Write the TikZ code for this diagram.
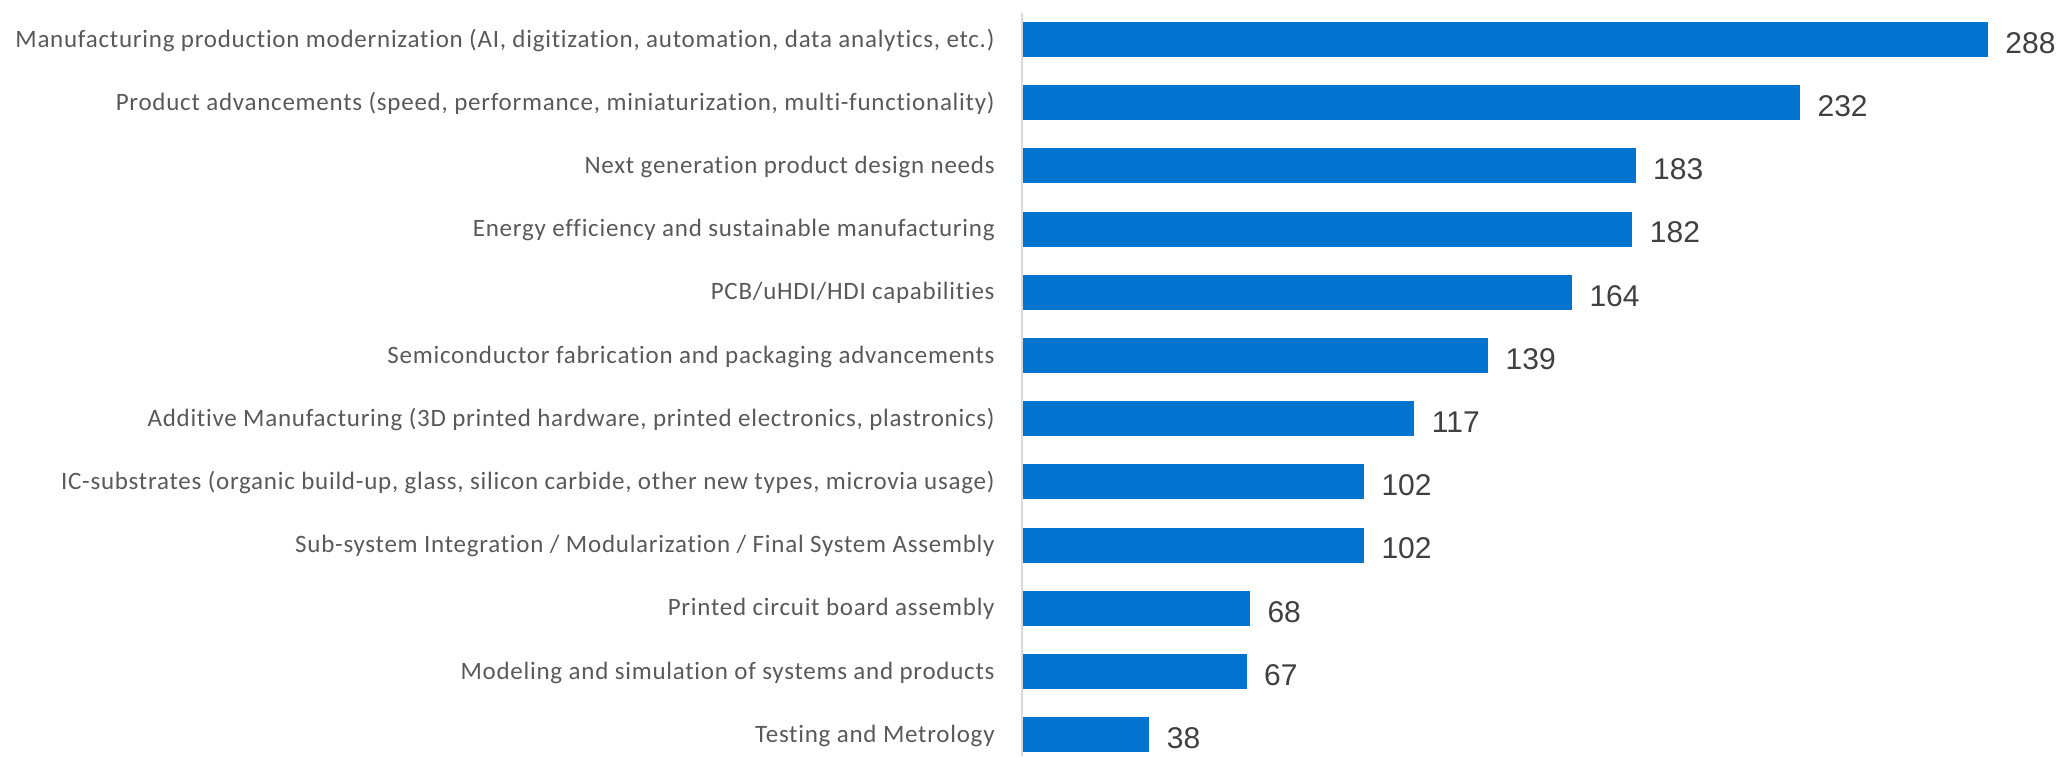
\documentclass[tikz,border=0pt]{standalone}
\usepackage{fontspec}
\setmainfont{Carlito}[LetterSpace=3.0,Ligatures=NoCommon]
\newfontfamily\numfont{Liberation Sans}
\definecolor{barblue}{HTML}{0273CF}
\definecolor{labelgray}{HTML}{595959}
\definecolor{numgray}{HTML}{404040}
\definecolor{axisgray}{HTML}{D9D9D9}
\tikzset{
	bar/.style={fill=barblue},
	catlabel/.style={anchor=base east,inner sep=0pt,text=labelgray,font=\fontsize{12.5}{15}\selectfont},
	vallabel/.style={anchor=base west,inner sep=0pt,text=numgray,font=\numfont\fontsize{15}{18}\selectfont},
}
\begin{document}
\begin{tikzpicture}[x=0.5pt,y=-0.5pt]
	\useasboundingbox (0,0) rectangle (2064,756);
	% category labels
	\node[catlabel] (c1) at (995,47) {Manufacturing production modernization (AI, digitization, automation, data analytics, etc.)};
	\node[catlabel] (c2) at (995,110.2) {Product advancements (speed, performance, miniaturization, multi-functionality)};
	\node[catlabel] (c3) at (995,173.4) {Next generation product design needs};
	\node[catlabel] (c4) at (995,236.6) {Energy efficiency and sustainable manufacturing};
	\node[catlabel] (c5) at (995,299.8) {PCB/uHDI/HDI capabilities};
	\node[catlabel] (c6) at (995,363) {Semiconductor fabrication and packaging advancements};
	\node[catlabel] (c7) at (995,426.2) {Additive Manufacturing (3D printed hardware, printed electronics, plastronics)};
	\node[catlabel] (c8) at (995,489.4) {IC-substrates (organic build-up, glass, silicon carbide, other new types, microvia usage)};
	\node[catlabel] (c9) at (995,552.6) {Sub-system Integration / Modularization / Final System Assembly};
	\node[catlabel] (c10) at (995,615.8) {Printed circuit board assembly};
	\node[catlabel] (c11) at (995,679) {Modeling and simulation of systems and products};
	\node[catlabel] (c12) at (995,742.2) {Testing and Metrology};
	% bars, one unit = one answer
	\begin{scope}[xshift=511pt,x=1.6771pt]
		\fill[bar] (0,22) rectangle (288,57);
		\fill[bar] (0,85.2) rectangle (232,120.2);
		\fill[bar] (0,148.4) rectangle (183,183.4);
		\fill[bar] (0,211.6) rectangle (182,246.6);
		\fill[bar] (0,274.8) rectangle (164,309.8);
		\fill[bar] (0,338) rectangle (139,373);
		\fill[bar] (0,401.2) rectangle (117,436.2);
		\fill[bar] (0,464.4) rectangle (102,499.4);
		\fill[bar] (0,527.6) rectangle (102,562.6);
		\fill[bar] (0,590.8) rectangle (68,625.8);
		\fill[bar] (0,654) rectangle (67,689);
		\fill[bar] (0,717.2) rectangle (38,752.2);
		\node[vallabel,xshift=8.5pt] (v1) at (288,53.3) {288};
		\node[vallabel,xshift=8.5pt] (v2) at (232,116.5) {232};
		\node[vallabel,xshift=8.5pt] (v3) at (183,179.7) {183};
		\node[vallabel,xshift=8.5pt] (v4) at (182,242.9) {182};
		\node[vallabel,xshift=8.5pt] (v5) at (164,306.1) {164};
		\node[vallabel,xshift=8.5pt] (v6) at (139,369.3) {139};
		\node[vallabel,xshift=8.5pt] (v7) at (117,432.5) {117};
		\node[vallabel,xshift=8.5pt] (v8) at (102,495.7) {102};
		\node[vallabel,xshift=8.5pt] (v9) at (102,558.9) {102};
		\node[vallabel,xshift=8.5pt] (v10) at (68,622.1) {68};
		\node[vallabel,xshift=8.5pt] (v11) at (67,685.3) {67};
		\node[vallabel,xshift=8.5pt] (v12) at (38,748.5) {38};
		% axis
		\coordinate (axtop) at (0,13);
		\coordinate (axbot) at (0,756);
		\draw[axisgray,line width=1pt] (axtop) -- (axbot);
	\end{scope}
\end{tikzpicture}
\end{document}
